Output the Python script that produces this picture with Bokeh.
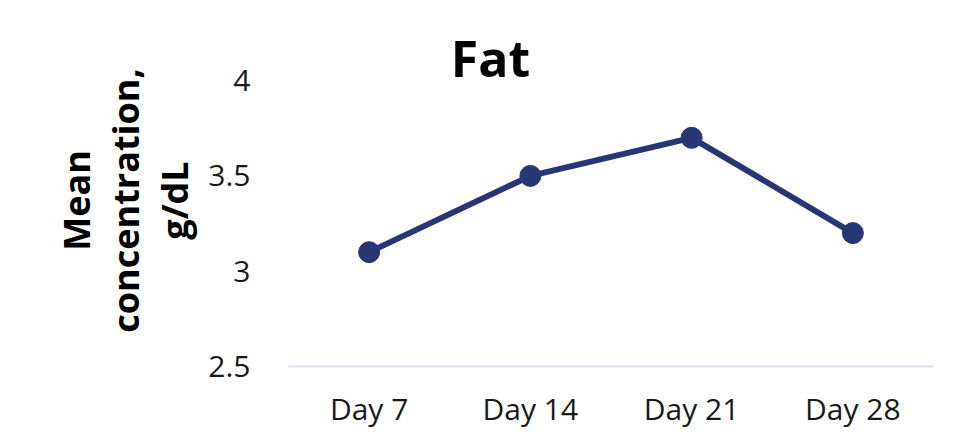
from bokeh.plotting import figure
from bokeh.models import FactorRange, Range1d, FixedTicker, Label
from bokeh.embed import file_html
from bokeh.resources import INLINE

days = ["Day 7", "Day 14", "Day 21", "Day 28"]
fat = [3.1, 3.5, 3.7, 3.2]
y_ticks = [2.5, 3, 3.5, 4]
y_tick_labels = {2.5: "2.5", 3: "3", 3.5: "3.5", 4: "4"}
title_text = "Fat"
y_label = "Mean\nconcentration,\ng/dL"

LINE = "#283673"
FONT = "Open Sans"

p = figure(width=952, height=432, x_range=FactorRange(*days, range_padding=0),
           y_range=Range1d(2.5, 4.242), output_backend="svg", toolbar_location=None,
           min_border_left=288, min_border_right=19, min_border_top=34, min_border_bottom=66)
p.outline_line_color = None
p.background_fill_color = "white"
p.border_fill_color = "white"
p.xgrid.grid_line_color = None
p.ygrid.grid_line_color = None

p.line(days, fat, line_color=LINE, line_width=6)
p.scatter(days, fat, size=21, fill_color=LINE, line_color=LINE)

# y axis
ya = p.yaxis[0]
ya.ticker = FixedTicker(ticks=y_ticks)
ya.major_label_overrides = y_tick_labels
ya.axis_line_color = None
ya.major_tick_line_color = None
ya.minor_tick_line_color = None
ya.major_label_standoff = 32
ya.major_label_text_font = FONT
ya.major_label_text_font_size = "30px"
ya.major_label_text_color = "#1a1a1a"
ya.axis_label = y_label
ya.axis_label_text_font = FONT
ya.axis_label_text_font_style = "bold"
ya.axis_label_text_font_size = "36px"
ya.axis_label_text_color = "black"
ya.axis_label_text_line_height = 1.0
ya.axis_label_standoff = 6

# x axis
xa = p.xaxis[0]
xa.axis_line_color = "#dcdff3"
xa.axis_line_width = 2
xa.major_tick_line_color = None
xa.minor_tick_line_color = None
xa.major_label_standoff = 15
xa.major_label_text_font = FONT
xa.major_label_text_font_size = "30px"
xa.major_label_text_color = "#1a1a1a"

# title
t = Label(x=490 - 288, y=309, x_units="screen", y_units="screen", text=title_text,
          text_font=FONT, text_font_style="bold", text_font_size="50px",
          text_align="center", text_baseline="alphabetic", text_color="black")
p.add_layout(t)

open("out.html", "w").write(file_html(p, INLINE))
